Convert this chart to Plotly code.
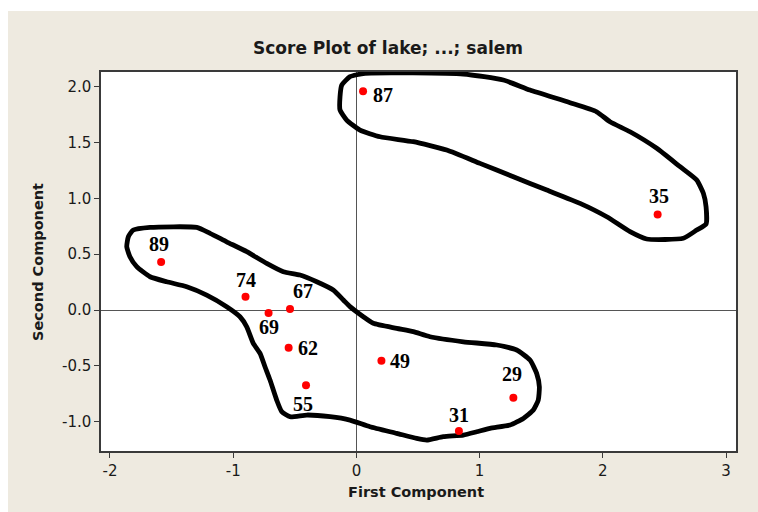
import plotly.graph_objects as go

# ---------------- data ----------------
obs_labels = ["87", "35", "89", "74", "67", "69", "62", "55", "49", "29", "31"]
first_comp = [0.054, 2.445, -1.585, -0.900, -0.539, -0.713, -0.550, -0.409, 0.203, 1.274, 0.832]
second_comp = [1.958, 0.855, 0.430, 0.120, 0.010, -0.027, -0.338, -0.673, -0.454, -0.785, -1.083]

# hand-drawn outline around observations 87 and 35 (data units)
group_a_x = [0.070, 0.868, 1.192, 1.409, 1.734, 1.950, 2.058, 2.221, 2.438, 2.627, 2.762, 2.816,
             2.838, 2.838, 2.762, 2.653, 2.356, 2.221, 2.032, 1.815, 1.545, 1.274, 1.003, 0.733,
             0.462, 0.192, 0.029, -0.079, -0.133, -0.133, -0.119, -0.052, 0.070]
group_a_y = [2.119, 2.113, 2.059, 1.969, 1.856, 1.775, 1.686, 1.596, 1.448, 1.283, 1.164, 1.045,
             0.925, 0.770, 0.716, 0.642, 0.636, 0.701, 0.835, 0.955, 1.074, 1.193, 1.313, 1.432,
             1.507, 1.551, 1.611, 1.701, 1.791, 1.910, 2.014, 2.089, 2.119]

# hand-drawn outline around the remaining observations (data units)
group_b_x = [-1.811, -1.675, -1.296, -1.188, -1.053, -0.890, -0.728, -0.593, -0.458, -0.322, -0.188,
             -0.106, -0.052, 0.056, 0.137, 0.327, 0.462, 0.597, 0.868, 1.139, 1.301, 1.409, 1.463,
             1.485, 1.476, 1.436, 1.355, 1.247, 1.084, 0.976, 0.868, 0.705, 0.571, 0.489, 0.327,
             0.110, -0.052, -0.214, -0.403, -0.539, -0.606, -0.647, -0.701, -0.742, -0.782, -0.837,
             -0.890, -0.945, -1.053, -1.215, -1.377, -1.540, -1.675, -1.783, -1.838, -1.864, -1.851,
             -1.811]
group_b_y = [0.716, 0.740, 0.740, 0.687, 0.611, 0.522, 0.418, 0.343, 0.313, 0.253, 0.179,
             0.090, 0.030, -0.060, -0.119, -0.164, -0.194, -0.239, -0.284, -0.313, -0.358, -0.448,
             -0.567, -0.687, -0.806, -0.895, -0.970, -1.030, -1.059, -1.090, -1.119, -1.134, -1.164,
             -1.149, -1.104, -1.045, -0.985, -0.955, -0.940, -0.955, -0.910, -0.806, -0.627, -0.508,
             -0.388, -0.298, -0.150, -0.060, 0.030, 0.134, 0.209, 0.253, 0.298, 0.388, 0.477, 0.567,
             0.656, 0.716]

x_ticks = [-2, -1, 0, 1, 2, 3]
x_tick_text = ["-2", "-1", "0", "1", "2", "3"]
y_ticks = [-1.0, -0.5, 0.0, 0.5, 1.0, 1.5, 2.0]
y_tick_text = ["-1.0", "-0.5", "0.0", "0.5", "1.0", "1.5", "2.0"]

title_text = "Score Plot of lake; ...; salem"
x_title = "First Component"
y_title = "Second Component"

# ---------------- styling ----------------
label_shift = {  # (xshift, yshift) in pixels for each point label
    "87": (20, -4), "35": (1, 19), "89": (-2, 18), "74": (0, 17), "67": (13, 18),
    "69": (0, -14), "62": (19, 0), "55": (-3, -19), "49": (19, 0), "29": (-1, 24),
    "31": (0, 16),
}
BEIGE = "#EEEAE0"
TICK_FONT = dict(family="DejaVu Sans", size=15, color="#1a1a1a")

fig = go.Figure()

for gx, gy in [(group_a_x, group_a_y), (group_b_x, group_b_y)]:
    fig.add_trace(go.Scatter(
        x=gx, y=gy, mode="lines",
        line=dict(color="black", width=4.8, shape="spline", smoothing=0.5),
        hoverinfo="skip", showlegend=False,
    ))

fig.add_trace(go.Scatter(
    x=first_comp, y=second_comp, mode="markers",
    marker=dict(color="#FF0000", size=8, line=dict(width=0)),
    text=obs_labels, showlegend=False,
))

for lab, xv, yv in zip(obs_labels, first_comp, second_comp):
    dx, dy = label_shift[lab]
    fig.add_annotation(
        x=xv, y=yv, text=lab, showarrow=False, xshift=dx, yshift=dy,
        font=dict(family="Liberation Serif", size=20, color="black", weight="bold"),
        xanchor="center", yanchor="middle",
    )

fig.add_annotation(
    text=x_title, xref="paper", yref="paper", x=0.496, y=-0.108,
    showarrow=False, xanchor="center", yanchor="middle",
    font=dict(family="DejaVu Sans", size=14.5, color="#1a1a1a", weight="bold"),
)
fig.add_annotation(
    text=y_title, xref="paper", yref="paper", x=-0.099, y=0.499, textangle=-90,
    showarrow=False, xanchor="center", yanchor="middle",
    font=dict(family="DejaVu Sans", size=14.5, color="#1a1a1a", weight="bold"),
)

axis_common = dict(
    showgrid=False, showline=True, mirror=True, linecolor="#3a3a3a", linewidth=1.5,
    ticks="outside", ticklen=5, tickwidth=1.2, tickcolor="#3a3a3a",
    zeroline=True, zerolinecolor="#555555", zerolinewidth=1,
    tickfont=TICK_FONT,
)

fig.update_layout(
    width=750, height=501,
    margin=dict(l=93, r=22, t=61, b=61, pad=0),
    paper_bgcolor=BEIGE, plot_bgcolor="white",
    title=dict(text=title_text, x=(388 - 8) / 750, xref="container", xanchor="center",
               y=1 - 37.5 / 501, yanchor="middle",
               font=dict(family="DejaVu Sans", size=17, color="#1a1a1a", weight="bold")),
    xaxis=dict(range=[-2.073, 3.081], tickvals=x_ticks, ticktext=x_tick_text, **axis_common),
    yaxis=dict(range=[-1.262, 2.131], tickvals=y_ticks, ticktext=y_tick_text, **axis_common),
    showlegend=False,
)

fig.write_html(
    "out.html",
    post_script="document.body.style.margin='11px 0 0 8px';"
                "document.body.style.overflow='hidden';"
                "document.documentElement.style.overflow='hidden';",
)
